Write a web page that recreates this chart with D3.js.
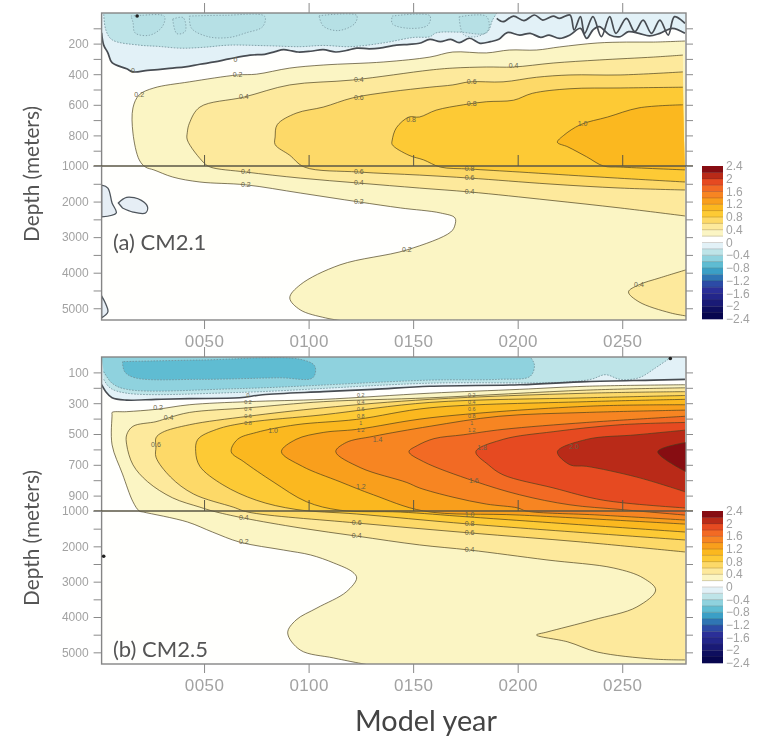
<!DOCTYPE html>
<html><head><meta charset="utf-8">
<style>
html,body{margin:0;padding:0;background:#fff}
svg{display:block;filter:blur(0.7px)}
text{font-family:"Liberation Sans",Arial,sans-serif}
.title{font-family:Lato,"Open Sans",sans-serif}
</style>
<script src="https://cdn.jsdelivr.net/npm/d3@7"></script>
</head><body><svg id="c" width="761" height="745"></svg>
<script>
// ---------- shared categories ----------
const yearTicks=[50,100,150,200,250];
const colorLevels=[-2.4,-2.2,-2,-1.8,-1.6,-1.4,-1.2,-1,-0.8,-0.6,-0.4,-0.2,0,0.2,0.4,0.6,0.8,1,1.2,1.4,1.6,1.8,2,2.2];
const colorValues=["#07064f","#0e0e5e","#191a76","#23268a","#2b2f98","#2c4ba6","#2f75b4","#3b9fc6","#5fbcd2","#8fd2de","#bee4e8","#e2f1f7","#ffffff","#fbf5c4","#fde99c","#fdd968","#fdca35","#fbb81f","#f99f1c","#f78522","#f26a24","#e64a21","#b92a18","#870d12"];
const colorTickValues=[2.4,2,1.6,1.2,0.8,0.4,0,-0.4,-0.8,-1.2,-1.6,-2,-2.4];
const negFill={m2:"#e2f1f7",m4:"#bee4e8",m6:"#8fd2de",m8:"#5fbcd2"};

// ---------- panel (a) CM2.1 contours: [model year, depth m] ----------
const a_zero=[[1,130],[2,210],[4,260],[6,325],[13,365],[16,385],[23,375],[29,368],[35,360],[41,352],[48,335],[55,320],[62,300],[72,275],[79,270],[84,252],[88,240],[92,248],[95,255],[101,250],[107,240],[113,255],[118,245],[123,230],[129,234],[134,230],[142,210],[148,205],[153,198],[158,172],[163,187],[168,172],[172,194],[177,165],[182,198],[187,187],[191,172],[195,128],[201,144],[206,133],[211,159],[215,144],[220,166],[225,144],[230,100],[233,166],[236,111],[239,89],[244,144],[249,155],[253,122],[258,133],[263,150],[268,133],[274,100],[280,133]];
const a_zeroTop=[[190,35],[193,57],[198,20],[203,50],[208,13],[212,46],[217,20],[220,35],[225,13],[227,111],[230,24],[232,133],[236,24],[240,155],[244,24],[247,133],[252,35],[256,122],[260,46],[264,133],[268,46],[272,144],[275,24],[280,68]];
const a_m2=[[190,0],[188,45],[185,130],[172,125],[161,130],[158,155],[150,160],[136,195],[120,220],[107,212],[96,220],[80,214],[62,210],[50,224],[39,230],[28,218],[19,210],[6,175],[3,110],[2,0]];
const a_blobs=[
 [[15,20],[20,15],[31,22],[30,90],[24,145],[17,130],[16,60],[15,20]],
 [[43,20],[60,15],[79,22],[78,90],[70,130],[62,160],[52,155],[44,100],[43,20]],
 [[105,18],[123,16],[122,70],[114,115],[107,85],[105,18]],
 [[172,25],[185,22],[186,110],[180,155],[174,140],[172,25]],
 [[35,40],[40,30],[41,120],[37,135],[35,40]],
 [[140,20],[158,18],[157,80],[148,100],[140,70],[140,20]]];
const a_pos=[
 {fill:"#fbf5c4",corners:[[280.5,5400]],pts:[[280,183],[265,190],[252,190],[238,196],[220,222],[209,242],[196,242],[185,261],[169,255],[158,288],[136,320],[107,340],[91,360],[75,400],[66,405],[43,450],[26,490],[19,535],[16,620],[16,785],[19,960],[22,1030],[26,1110],[35,1310],[48,1450],[70,1530],[96,1760],[124,2010],[144,2180],[163,2320],[170,2460],[170,2660],[168,2855],[147,3360],[115,3780],[96,4340],[91,4710],[96,5045],[108,5270],[117,5360]]},
 {fill:"#fde99c",pts:[[279,275],[265,288],[239,307],[217,327],[198,353],[185,353],[169,360],[158,373],[121,438],[91,470],[69,550],[48,615],[43,720],[42,780],[42,830],[50,980],[53,1030],[70,1170],[96,1340],[124,1480],[153,1620],[177,1730],[215,1960],[249,2180],[280,2405]]},
 {fill:"#fde99c",pts:[[280.5,3920],[268,4145],[258,4340],[253,4540],[258,4820],[273,5130],[280.5,5215]]},
 {fill:"#fdd968",pts:[[279,385],[249,405],[225,405],[209,420],[193,450],[177,450],[169,470],[158,485],[139,515],[121,555],[107,615],[94,655],[85,730],[84,810],[84,860],[91,930],[98,1030],[124,1170],[153,1255],[177,1340],[215,1505],[249,1620],[280,1675]]},
 {fill:"#fdca35",pts:[[279,485],[249,490],[225,495],[207,525],[198,570],[185,580],[174,600],[161,635],[153,680],[148,680],[142,750],[140,830],[140,860],[148,930],[155,960],[163,1030],[177,1085],[201,1170],[239,1310],[280,1450]]},
 {fill:"#fbb81f",pts:[[279,600],[258,620],[243,680],[230,730],[222,800],[219,845],[224,875],[233,940],[241,1000],[249,1030],[280,1110]]}];
const a_isles=[
 [[1,1540],[4,1620],[6,2040],[8,2320],[1,2430]],
 [[9,2040],[13,1880],[20,1965],[23,2155],[22,2320],[16,2295],[11,2180]],
 [[1,4650],[3,4880],[4,5100],[1,5270]]];
const a_labels=[["0.2",19,535],["0.2",66,405],["0.4",69,550],["0.4",124,438],["0.6",124,555],["0.8",149,700],["0.4",198,345],["0.6",178,450],["0.8",178,590],["1.0",231,725],["0",65,305],["0",16,375],["0.4",70,1170],["0.2",70,1530],["0.6",124,1170],["0.4",124,1480],["0.2",124,2010],["0.8",177,1085],["0.6",177,1340],["0.4",177,1730],["0.2",147,3360],["0.4",258,4340]];

// ---------- panel (b) CM2.5 contours: [model year, depth m] ----------
const b_zero=[[1,180],[3,225],[6,265],[13,280],[27,275],[43,270],[67,265],[78,245],[107,225],[131,210],[158,190],[201,180],[233,160],[265,150],[280,145]];
const b_m2=[[2,145],[5,200],[13,235],[67,230],[158,170],[220,165],[235,145],[242,115],[249,145],[258,135],[266,70],[272,15],[274,0]];
const b_m4=[[2,95],[6,170],[13,210],[67,205],[158,150],[191,145],[206,125],[208,50],[206,0]];
const b_m6=[[11,30],[12,95],[17,135],[48,145],[86,135],[102,135],[103,60],[96,15],[48,20],[11,30]];
const b_pos=[
 {fill:"#fbf5c4",corners:[[280.5,5400]],pts:[[280,180],[233,190],[201,210],[158,235],[107,275],[71,290],[43,310],[27,340],[13,355],[6,360],[6,375],[6,570],[11,760],[16,940],[19,1000],[21,1030],[42,1310],[54,1595],[67,1880],[88,2105],[101,2245],[112,2470],[121,2725],[123,2895],[118,3290],[104,3745],[94,4085],[90,4450],[96,4935],[112,5160],[129,5360]]},
 {fill:"#fde99c",pts:[[280,200],[233,215],[158,265],[107,290],[71,330],[43,360],[33,395],[27,420],[16,450],[13,505],[13,570],[16,700],[23,810],[35,915],[48,975],[54,1000],[69,1200],[96,1480],[123,1710],[153,1960],[177,2105],[214,2385],[246,2615],[260,2895],[266,3235],[257,3715],[236,4085],[214,4425],[209,4510],[224,4705],[238,4990],[265,5190],[280,5215]]},
 {fill:"#fdd968",pts:[[280,225],[233,235],[158,275],[107,330],[71,385],[43,440],[30,490],[27,525],[27,585],[27,650],[34,780],[45,890],[64,975],[71,1030],[123,1340],[177,1620],[230,1875],[280,2160]]},
 {fill:"#fdca35",pts:[[280,250],[233,265],[158,295],[107,375],[71,425],[56,470],[47,535],[46,615],[48,710],[59,830],[75,930],[94,990],[123,1085],[177,1370],[280,1820]]},
 {fill:"#fbb81f",pts:[[280,275],[233,290],[158,330],[123,405],[94,440],[75,490],[66,535],[63,615],[69,680],[83,810],[99,940],[115,995],[144,1030],[177,1170],[280,1595]]},
 {fill:"#f99f1c",pts:[[280,310],[233,320],[158,395],[123,470],[107,490],[94,535],[87,615],[97,710],[115,810],[131,895],[155,1000],[201,1115],[280,1370]]},
 {fill:"#f78522",pts:[[280,345],[233,360],[191,385],[158,450],[131,515],[118,555],[113,615],[125,720],[147,815],[153,850],[169,910],[185,955],[200,980],[204,1000],[239,1115],[280,1255]]},
 {fill:"#f26a24",pts:[[280,385],[233,425],[193,470],[174,505],[160,530],[152,575],[148,615],[155,680],[179,805],[201,895],[225,960],[249,990],[280,1115]]},
 {fill:"#e64a21",pts:[[280,425],[249,440],[217,485],[193,535],[180,615],[186,700],[193,765],[217,850],[241,930],[280,980]]},
 {fill:"#b92a18",pts:[[280,475],[257,505],[233,535],[219,615],[225,700],[233,710],[257,780],[280,875]]},
 {fill:"#870d12",pts:[[280.5,555],[267,615],[280.5,745]]}];
const b_labels=[["0.2",28,330],["0.4",33,395],["0.6",27,570],["1.0",83,480],["1.4",133,540],["1.8",183,590],["2.0",227,580],["1.2",125,840],["1.6",179,805],["0.4",69,1200],["0.2",69,1880],["0.6",123,1340],["0.4",123,1710],["1.0",177,1100],["0.8",177,1370],["0.6",177,1620],["0.4",177,2105]];
const b_stacks=[["0",71,250],["0.2",71,295],["0.4",71,340],["0.6",71,385],["0.8",71,430],["0.2",125,250],["0.4",125,295],["0.6",125,340],["0.8",125,385],["1",125,430],["1.2",125,475],["0.2",178,250],["0.4",178,295],["0.6",178,340],["0.8",178,385],["1",178,430],["1.2",178,475]];

// ---------- drawing ----------
const svg=d3.select("#c");
const xDomain=[1,280.5], depthDomain=[0,1000,5330];
const x=d3.scaleLinear().domain(xDomain).range([101.6,686]);
const lineColor="rgba(72,62,30,.72)", grey="#a2a2a2";

function drawPanel(p){
  const y=d3.scaleLinear().domain(depthDomain).range([p.top,p.mid,p.bot]);
  const line=d3.line().x(d=>x(d[0])).y(d=>y(d[1])).curve(d3.curveCatmullRom.alpha(.5));
  const g=svg.append("g");
  const id="clip"+p.name;
  svg.append("clipPath").attr("id",id).append("rect").attr("x",x(1)).attr("y",p.top).attr("width",x(280.5)-x(1)).attr("height",p.bot-p.top);
  const plot=g.append("g").attr("clip-path",`url(#${id})`);
  plot.append("rect").attr("x",x(1)).attr("y",p.top).attr("width",x(280.5)-x(1)).attr("height",p.bot-p.top).attr("fill","#fffffd");
  const fillPath=(pts,corners)=>line(pts)+(corners||[]).map(c=>`L${x(c[0])},${y(c[1])}`).join("")+"Z";
  p.pos.forEach(c=>plot.append("path").attr("d",fillPath(c.pts,c.corners)).attr("fill",c.fill));
  p.pos.forEach(c=>plot.append("path").attr("d",line(c.pts)).attr("fill","none").attr("stroke",lineColor).attr("stroke-width",.95));
  p.neg.forEach(c=>plot.append("path").attr("d",fillPath(c.pts,c.corners)).attr("fill",c.fill));
  p.neg.slice(1).forEach(c=>plot.append("path").attr("d",line(c.pts)).attr("fill","none").attr("stroke","#6f8f98").attr("stroke-width",.8).attr("stroke-dasharray","1.6 1.4"));
  (p.dots||[]).forEach(b=>plot.append("path").attr("d",line(b)).attr("fill","rgba(150,205,215,.18)").attr("stroke","#7f9ea7").attr("stroke-width",.9).attr("stroke-dasharray","1.3 1.7"));
  p.zero.forEach(z=>plot.append("path").attr("d",line(z)).attr("fill","none").attr("stroke","#474c52").attr("stroke-width",p.zeroW));
  (p.isles||[]).forEach(b=>plot.append("path").attr("d",line(b)+"Z").attr("fill","#e6eef5").attr("stroke","#4e555c").attr("stroke-width",1.3));
  const labelSet=(cls,data,size)=>plot.selectAll("text."+cls).data(data).join("text").attr("class",cls)
    .attr("x",d=>x(d[1])).attr("y",d=>y(d[2])+size/3).attr("text-anchor","middle")
    .attr("font-size",size).attr("fill","#6a6448").text(d=>d[0]);
  labelSet("l",p.labels,7);
  labelSet("s",p.stacks||[],5.4);
  g.append("rect").attr("x",x(1)).attr("y",p.top).attr("width",x(280.5)-x(1)).attr("height",p.bot-p.top).attr("fill","none").attr("stroke","#858585").attr("stroke-width",1.4);
  g.append("line").attr("x1",x(1)-8).attr("x2",x(280.5)+7).attr("y1",p.mid).attr("y2",p.mid).attr("stroke","#5a5645").attr("stroke-width",1.5);
  const style=a=>{a.select(".domain").remove();a.selectAll(".tick line").attr("stroke","#8a8a8a").attr("stroke-width",1);return a;};
  const left=g.append("g").attr("transform",`translate(${x(1)},0)`)
    .call(d3.axisLeft(y).tickValues(p.depthTicks).tickSize(8).tickPadding(5).tickFormat(d=>p.depthLabels.includes(d)?d:""));
  style(left).selectAll("text").attr("font-size",12).attr("fill",grey);
  style(g.append("g").attr("transform",`translate(${x(280.5)},0)`).call(d3.axisRight(y).tickValues(p.depthTicks).tickSize(7).tickFormat("")));
  style(g.append("g").attr("transform",`translate(0,${p.top})`).call(d3.axisTop(x).tickValues(yearTicks).tickSize(10).tickFormat("")));
  style(g.append("g").attr("transform",`translate(0,${p.mid})`).call(d3.axisTop(x).tickValues(yearTicks).tickSize(11).tickFormat(""))).selectAll(".tick line").attr("stroke","#5a5645");
  const bot=g.append("g").attr("transform",`translate(0,${p.bot})`)
    .call(d3.axisBottom(x).tickValues(yearTicks).tickSize(9).tickPadding(6).tickFormat(d3.format("04d")));
  style(bot).selectAll("text").attr("font-size",17).attr("letter-spacing",".4px").attr("fill",grey);
  const cy=d3.scaleLinear().domain([-2.4,2.4]).range([p.bot-1,p.mid]);
  const cb=g.append("g");
  cb.selectAll("rect").data(colorLevels).join("rect").attr("x",702).attr("width",21)
    .attr("y",d=>cy(d+0.2)).attr("height",d=>cy(d)-cy(d+0.2)+.3)
    .attr("fill",(d,i)=>colorValues[i]);
  cb.selectAll("line").data(colorLevels.slice(1)).join("line").attr("x1",702).attr("x2",723)
    .attr("y1",d=>cy(d)).attr("y2",d=>cy(d)).attr("stroke","rgba(60,50,40,.35)").attr("stroke-width",.6);
  cb.selectAll("text").data(colorTickValues).join("text").attr("x",726).attr("y",d=>cy(d)+4)
    .attr("font-size",12).attr("fill",grey).text(d=>d<0?"−"+Math.abs(d):d);
  g.append("text").attr("class","title").attr("x",113).attr("y",p.tagY).attr("font-size",22).attr("fill","#555").text(p.tag);
  g.append("text").attr("class","title").attr("transform",`translate(39,${p.titleY}) rotate(-90)`).attr("text-anchor","middle").attr("font-size",20.8).attr("fill","#555").text("Depth (meters)");
  (p.specks||[]).forEach(s=>g.append("circle").attr("cx",x(s[0])).attr("cy",y(s[1])).attr("r",1.8).attr("fill","#222"));
}

drawPanel({name:"a",top:13,mid:166,bot:320,zeroW:1.7,
  neg:[{fill:negFill.m2,pts:a_zero,corners:[[280.5,0],[1,0]]},{fill:negFill.m4,pts:a_m2}],
  dots:a_blobs,zero:[a_zero,a_zeroTop],isles:a_isles,pos:a_pos,labels:a_labels,
  depthTicks:[100,200,300,400,500,600,700,800,900,1000,1500,2000,2500,3000,3500,4000,4500,5000],
  depthLabels:[200,400,600,800,1000,2000,3000,4000,5000],
  tag:"(a) CM2.1",tagY:250,titleY:174,specks:[[18,20]]});
drawPanel({name:"b",top:357,mid:511,bot:664,zeroW:1.6,
  neg:[{fill:negFill.m2,pts:b_zero,corners:[[280.5,0],[1,0]]},{fill:negFill.m4,pts:b_m2,corners:[[1,0]]},{fill:negFill.m6,pts:b_m4,corners:[[1,0]]},{fill:negFill.m8,pts:b_m6}],
  zero:[b_zero],pos:b_pos,labels:b_labels,stacks:b_stacks,
  depthTicks:[100,200,300,400,500,600,700,800,900,1000,1500,2000,2500,3000,3500,4000,4500,5000],
  depthLabels:[100,300,500,700,900,1000,2000,3000,4000,5000],
  tag:"(b) CM2.5",tagY:657,titleY:538,specks:[[2,2280],[273,10]]});

svg.append("text").attr("class","title").attr("x",426).attr("y",731).attr("text-anchor","middle").attr("font-size",28.8).attr("fill","#444").text("Model year");
</script></body></html>
